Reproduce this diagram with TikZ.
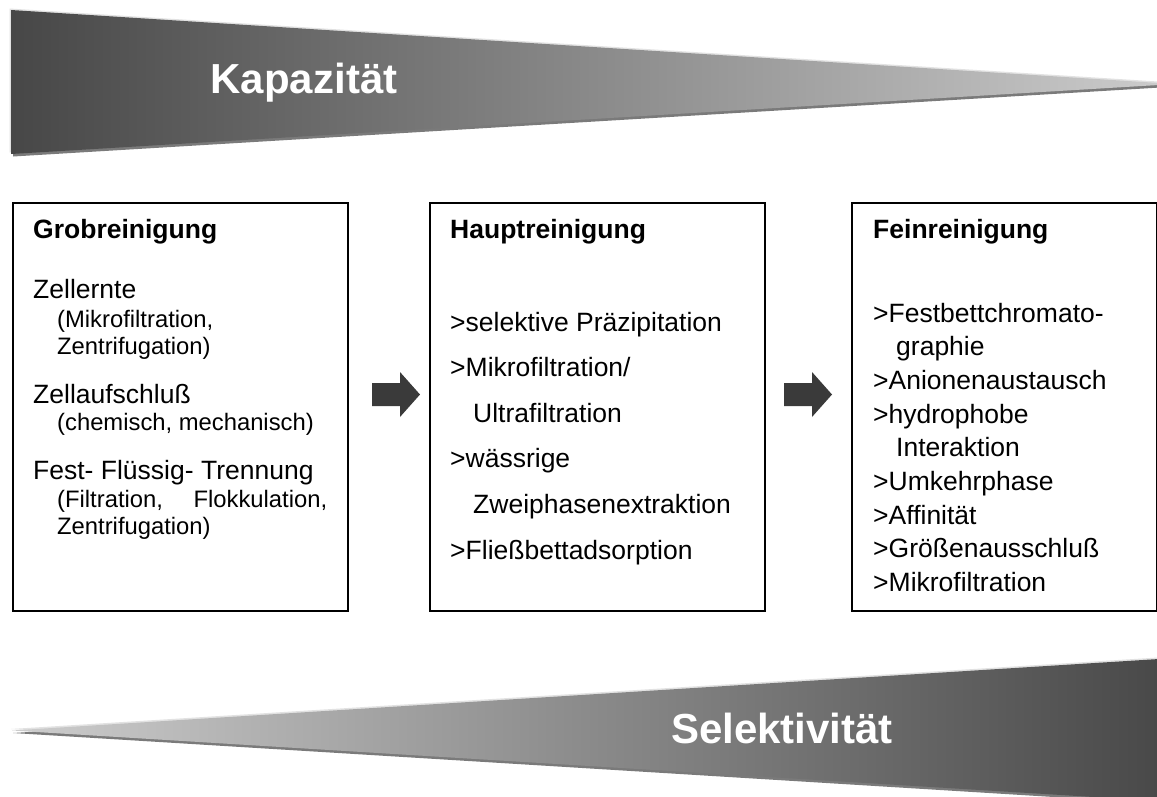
\documentclass[tikz,border=0pt]{standalone}
\usepackage{fontspec}
\setmainfont{Liberation Sans}
\usepackage{tikz}
\usetikzlibrary{calc}
\definecolor{keilDunkel}{HTML}{474747}
\definecolor{keilHell}{HTML}{CDCDCD}
\definecolor{keilSchatten}{HTML}{7A7A7A}
\definecolor{keilKante}{HTML}{E2E2E2}
\definecolor{pfeilGrau}{HTML}{3A3A3A}
\tikzset{
  stufe/.style={draw=black, line width=1.6pt, minimum width=335pt, minimum height=408pt, anchor=north west, inner sep=0pt},
  kopf/.style={anchor=base west, inner sep=0pt, font=\fontsize{26.5}{30}\selectfont\bfseries},
  zeile/.style={anchor=base west, inner sep=0pt, font=\fontsize{26.5}{30}\selectfont},
  klein/.style={anchor=base west, inner sep=0pt, font=\fontsize{23.8}{27}\selectfont},
  titel/.style={text=white, inner sep=0pt, font=\fontsize{42}{48}\selectfont\bfseries}
}

\begin{document}
\begin{tikzpicture}[x=1pt,y=-1pt]
\useasboundingbox (0,0) rectangle (1157,796);
\fill[white] (0,0) rectangle (1157,796);
% Keil oben
\fill[keilSchatten,xshift=2pt,yshift=-2.5pt] (11,10) -- (1175,84) -- (11,154) -- cycle;
\fill[keilKante,xshift=-1.5pt,yshift=1.5pt] (11,10) -- (1175,84) -- (11,154) -- cycle;
\shade[left color=keilDunkel,right color=keilHell] (11,10) -- (1175,84) -- (11,154) -- cycle;
\node[titel] (kapazitaet) at (304,83) {Kapazität};
% Keil unten
\fill[keilSchatten,xshift=1pt,yshift=-2.5pt] (12,730.5) -- (1175,658) -- (1175,802) -- cycle;
\fill[keilKante,xshift=-1pt,yshift=1.5pt] (12,730.5) -- (1175,658) -- (1175,802) -- cycle;
\shade[left color=keilHell,right color=keilDunkel] (12,730.5) -- (1175,658) -- (1175,802) -- cycle;
\node[titel] (selektivitaet) at (782,728) {Selektivität};

% Grobreinigung
\node[stufe] (grob) at (12,202) {};
\node[kopf] (grobtitel) at (33,238) {Grobreinigung};
\foreach [count=\i] \xx/\yy/\stil/\txt in {33/298/zeile/Zellernte, 57/327/klein/{(Mikrofiltration,},
  57/354/klein/{Zentrifugation)}, 33/403/zeile/Zellaufschluß, 57/430/klein/{(chemisch, mechanisch)},
  33/479/zeile/{Fest- Flüssig- Trennung}, 57/507/klein/{\makebox[270pt][s]{(Filtration, Flokkulation,}},
  57/534/klein/{Zentrifugation)}}
  \node[\stil] (grob-\i) at (\xx,\yy) {\txt};

% Hauptreinigung
\node[stufe] (haupt) at (429,202) {};
\node[kopf] (haupttitel) at (450,238) {Hauptreinigung};
\foreach [count=\i] \xx/\yy/\txt in {450/331/{>selektive Präzipitation}, 450/376.6/{>Mikrofiltration/},
  473/422/Ultrafiltration, 450/467.8/{>wässrige}, 473/513.4/Zweiphasenextraktion, 450/559/{>Fließbettadsorption}}
  \node[zeile] (haupt-\i) at (\xx,\yy) {\txt};

% Feinreinigung
\node[stufe,minimum width=304.5pt] (fein) at (851,202) {};
\node[kopf] (feintitel) at (873,238) {Feinreinigung};
\foreach [count=\i] \xx/\yy/\txt in {873/322/{>Festbettchromato-}, 896/355.6/graphie, 873/389/{>Anionenaustausch},
  873/423/{>hydrophobe}, 896/456/Interaktion, 873/490/{>Umkehrphase}, 873/524/{>Affinität},
  873/557/{>Größenausschluß}, 873/591/{>Mikrofiltration}}
  \node[zeile] (fein-\i) at (\xx,\yy) {\txt};

% Blockpfeile
\foreach \px in {396,808}
  \fill[pfeilGrau] (\px-24,383) -- (\px+4,383) -- (\px+4,372) -- (\px+24,394.5)
    -- (\px+4,417) -- (\px+4,406) -- (\px-24,406) -- cycle;
\end{tikzpicture}
\end{document}
